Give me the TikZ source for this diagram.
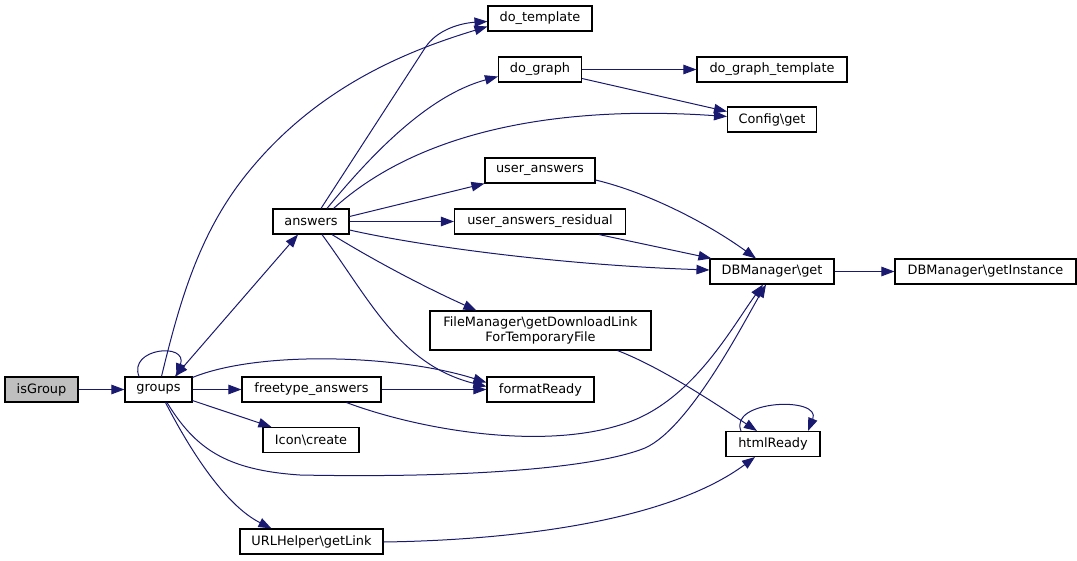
\documentclass[tikz,border=0pt]{standalone}
\usepackage{fontspec}
\setmainfont{DejaVu Sans}
\usetikzlibrary{arrows.meta,calc}
\definecolor{edgeblue}{HTML}{191970}
\definecolor{rootgrey}{HTML}{BFBFBF}
\begin{document}
\begin{tikzpicture}[x=1pt,y=-1pt,
  fn/.style={draw=black, line width=1.1pt, rectangle, minimum height=25pt, inner sep=0pt,
    font=\fontsize{12.9}{14.5}\selectfont, align=center},
  call/.style={draw=edgeblue, line width=1pt, -{Triangle[length=13pt,width=9.5pt]}},
  both/.style={draw=edgeblue, line width=1pt, {Triangle[length=13pt,width=9.5pt]}-{Triangle[length=13pt,width=9.5pt]}},
]
\useasboundingbox (0,0) rectangle (1077,560);
% nodes
\node[fn, fill=rootgrey, minimum width=73pt] (isG) at (41.5,389.5) {isGroup};
\node[fn, minimum width=67pt] (groups) at (158.5,389.5) {groups};
\node[fn, minimum width=76pt] (answers) at (311,221.5) {answers};
\node[fn, minimum width=139pt] (ftans) at (311.5,389.5) {freetype\_answers};
\node[fn, minimum width=96pt] (icon) at (311,440) {Icon\textbackslash create};
\node[fn, minimum width=143pt] (url) at (311.5,541.5) {URLHelper\textbackslash getLink};
\node[fn, minimum width=104pt] (dotpl) at (540,18.5) {do\_template};
\node[fn, minimum width=83pt] (dograph) at (540,69.5) {do\_graph};
\node[fn, minimum width=110pt] (uans) at (540,170.5) {user\_answers};
\node[fn, minimum width=171pt] (uansr) at (540,221.5) {user\_answers\_residual};
\node[fn, minimum width=221pt, minimum height=39pt] (fm) at (540.5,330.5) {FileManager\textbackslash getDownloadLink\\ForTemporaryFile};
\node[fn, minimum width=107pt] (fready) at (540.5,389.5) {formatReady};
\node[fn, minimum width=150pt] (dgt) at (772,69.5) {do\_graph\_template};
\node[fn, minimum width=89pt] (cfg) at (772,119.5) {Config\textbackslash get};
\node[fn, minimum width=124pt] (dbget) at (772,271.5) {DBManager\textbackslash get};
\node[fn, minimum width=94pt] (html) at (773,444) {htmlReady};
\node[fn, minimum width=181pt] (dbinst) at (985.5,271.5) {DBManager\textbackslash getInstance};
% edges
\draw[call] (isG.east) -- (groups.west);
\draw[call] ($(groups.north)+(-19.5,0)$) .. controls (128,348) and (188,342) .. ($(groups.north)+(18,0)$);
\draw[both] ($(groups.north)+(16.5,0)$) -- ($(answers.south)+(-13,0)$);
\draw[call] ($(groups.north)+(3,0)$) .. controls (180,300) and (200,230) .. (250,170) .. controls (320,85) and (410,50) .. ($(dotpl.west)+(0,8)$);
\draw[call] ($(answers.north)+(10,0)$) -- (425,48) .. controls (437,29) and (462,23) .. ($(dotpl.west)+(0,3)$);
\draw[call] ($(answers.north)+(16,0)$) .. controls (375,150) and (430,95) .. ($(dograph.west)+(0,7)$);
\draw[call] ($(answers.north east)+(-16,0)$) .. controls (420,130) and (560,105) .. ($(cfg.west)+(0,-3)$);
\draw[call] (dograph.east) -- (dgt.west);
\draw[call] ($(dograph.east)+(0,9)$) -- ($(cfg.west)+(0,-8)$);
\draw[call] ($(answers.east)+(0,-5)$) -- (uans.south west);
\draw[call] (answers.east) -- (uansr.west);
\draw[call] ($(answers.east)+(0,8.5)$) .. controls (420,246) and (560,265) .. ($(dbget.west)+(0,-1.5)$);
\draw[call] ($(uans.east)+(0,9.5)$) .. controls (650,193) and (710,225) .. ($(dbget.north)+(-16,0)$);
\draw[call] ($(uansr.south)+(59,0)$) -- ($(dbget.north west)+(2,0)$);
\draw[call] (dbget.east) -- (dbinst.west);
\draw[call] ($(answers.south)+(21,0)$) .. controls (370,258) and (420,285) .. ($(fm.north west)+(47,0)$);
\draw[call] ($(answers.south)+(11,0)$) .. controls (370,300) and (400,365) .. ($(fready.west)+(0,-3)$);
\draw[call] ($(groups.north east)+(0,1)$) .. controls (260,350) and (400,355) .. ($(fready.west)+(0,-7)$);
\draw[call] (groups.east) -- (ftans.west);
\draw[call] (ftans.east) -- (fready.west);
\draw[call] ($(groups.south east)+(0,-2)$) -- ($(icon.north west)+(9,0)$);
\draw[call] ($(groups.south)+(8.5,0)$) .. controls (195,448) and (225,470) .. (300,475) .. controls (450,478) and (590,470) .. (645,448) .. controls (690,428) and (745,320) .. ($(dbget.south)+(-6,0)$);
\draw[call] ($(ftans.south)+(35,0)$) .. controls (420,430) and (540,450) .. (620,425) .. controls (690,405) and (730,330) .. ($(dbget.south)+(-9,0)$);
\draw[call] ($(groups.south)+(7,0)$) .. controls (190,450) and (225,505) .. ($(url.north west)+(32,0)$);
\draw[call] ($(url.east)+(0,0.5)$) .. controls (520,540) and (670,520) .. ($(html.south)+(-18,0)$);
\draw[call] ($(fm.south)+(77,0)$) .. controls (660,367) and (710,400) .. ($(html.north)+(-16,0)$);
\draw[call] ($(html.north)+(-32,0)$) .. controls (728,400) and (822,396) .. ($(html.north)+(35,0)$);
\end{tikzpicture}
\end{document}
